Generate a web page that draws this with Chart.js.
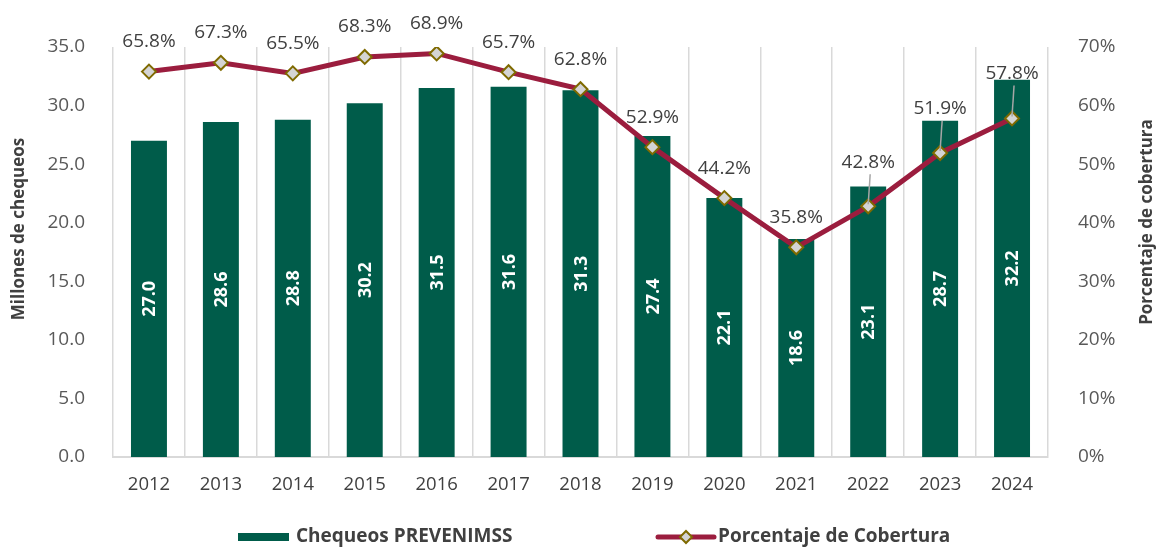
<!DOCTYPE html>
<html>
<head>
<meta charset="utf-8">
<script src="https://cdn.jsdelivr.net/npm/chart.js@4.4.1/dist/chart.umd.min.js"></script>
<style>
html,body{margin:0;padding:0;background:#fff;}
#wrap{width:1162px;height:550px;position:relative;}
</style>
</head>
<body>
<div id="wrap"><canvas id="c" width="1162" height="550"></canvas></div>
<script>
const years = ['2012','2013','2014','2015','2016','2017','2018','2019','2020','2021','2022','2023','2024'];
const chequeos = [27.0, 28.6, 28.8, 30.2, 31.5, 31.6, 31.3, 27.4, 22.1, 18.6, 23.1, 28.7, 32.2];
const cobertura = [65.8, 67.3, 65.5, 68.3, 68.9, 65.7, 62.8, 52.9, 44.2, 35.8, 42.8, 51.9, 57.8];
const leftTicks = [0, 5, 10, 15, 20, 25, 30, 35];
const rightTicks = [0, 10, 20, 30, 40, 50, 60, 70];
const leftTitle = 'Millones de chequeos';
const rightTitle = 'Porcentaje de cobertura';

const GREEN = '#005C4A';
const RED = '#9B1D3E';
const TXT = '#404040';
const FONT = '"Open Sans", sans-serif';

const labelPlugin = {
  id: 'labels',
  afterDatasetsDraw(chart) {
    const ctx = chart.ctx;
    const barMeta = chart.getDatasetMeta(0);
    ctx.save();
    ctx.fillStyle = '#ffffff';
    ctx.font = 'bold 18px ' + FONT;
    ctx.textAlign = 'center';
    ctx.textBaseline = 'middle';
    barMeta.data.forEach((bar, i) => {
      const cy = (bar.y + bar.base) / 2;
      ctx.save();
      ctx.translate(bar.x, cy);
      ctx.rotate(-Math.PI / 2);
      ctx.fillText(chequeos[i].toFixed(1), 0, 1);
      ctx.restore();
    });
    ctx.restore();
  },
  afterDraw(chart) {
    const ctx = chart.ctx;
    const lineMeta = chart.getDatasetMeta(1);
    const lifts = chart.options.plugins.labels.lift;
    ctx.save();
    ctx.font = '19px ' + FONT;
    ctx.fillStyle = TXT;
    ctx.textAlign = 'center';
    ctx.textBaseline = 'middle';
    lineMeta.data.forEach((pt, i) => {
      const lift = lifts[i] !== undefined ? lifts[i] : 30;
      const ly = pt.y - lift;
      if (lift > 35) {
        ctx.save();
        ctx.strokeStyle = '#A6A6A6';
        ctx.lineWidth = 1.5;
        ctx.beginPath();
        ctx.moveTo(pt.x + 2, ly + 12);
        ctx.lineTo(pt.x, pt.y - 2);
        ctx.stroke();
        ctx.restore();
      }
      ctx.fillText(cobertura[i].toFixed(1) + '%', pt.x, ly);
    });
    ctx.restore();

    // axis titles (both read bottom-to-top)
    ctx.save();
    ctx.font = 'bold 17px ' + FONT;
    ctx.fillStyle = TXT;
    ctx.textAlign = 'center';
    ctx.textBaseline = 'middle';
    ctx.save();
    ctx.translate(19, 229);
    ctx.rotate(-Math.PI / 2);
    ctx.fillText(leftTitle, 0, 0);
    ctx.restore();
    ctx.save();
    ctx.translate(1147, 222);
    ctx.rotate(-Math.PI / 2);
    ctx.fillText(rightTitle, 0, 0);
    ctx.restore();
    ctx.restore();

    // legend
    ctx.save();
    const ly = 537;
    ctx.fillStyle = GREEN;
    ctx.fillRect(238, ly - 4, 51, 8);
    ctx.font = 'bold 19px ' + FONT;
    ctx.fillStyle = TXT;
    ctx.textBaseline = 'middle';
    ctx.textAlign = 'left';
    ctx.fillText(chart.data.datasets[0].label, 296, ly);
    ctx.strokeStyle = RED;
    ctx.lineWidth = 5;
    ctx.lineCap = 'round';
    ctx.beginPath();
    ctx.moveTo(658, ly);
    ctx.lineTo(714, ly);
    ctx.stroke();
    ctx.beginPath();
    ctx.moveTo(686, ly - 6);
    ctx.lineTo(692, ly);
    ctx.lineTo(686, ly + 6);
    ctx.lineTo(680, ly);
    ctx.closePath();
    ctx.fillStyle = '#D4D4D4';
    ctx.fill();
    ctx.strokeStyle = '#7F6A00';
    ctx.lineWidth = 2;
    ctx.stroke();
    ctx.fillStyle = TXT;
    ctx.fillText(chart.data.datasets[1].label, 718, ly);
    ctx.restore();
  }
};

new Chart(document.getElementById('c'), {
  data: {
    labels: years,
    datasets: [
      {
        type: 'bar',
        label: 'Chequeos PREVENIMSS',
        data: chequeos,
        backgroundColor: GREEN,
        borderWidth: 0,
        barPercentage: 0.5,
        categoryPercentage: 1.0,
        yAxisID: 'y',
        order: 2
      },
      {
        type: 'line',
        label: 'Porcentaje de Cobertura',
        data: cobertura,
        borderColor: RED,
        borderWidth: 5,
        tension: 0,
        pointStyle: 'rectRot',
        pointRadius: 7,
        pointBackgroundColor: '#D4D4D4',
        pointBorderColor: '#7F6A00',
        pointBorderWidth: 2,
        yAxisID: 'y1',
        order: 1
      }
    ]
  },
  options: {
    responsive: false,
    animation: false,
    layout: { padding: { top: 47, bottom: 53, left: 0, right: 0 } },
    plugins: {
      legend: { display: false },
      tooltip: { enabled: false },
      labels: { lift: { 10: 44, 11: 44, 12: 45 } }
    },
    scales: {
      x: {
        grid: { display: true, color: '#D9D9D9', lineWidth: 1.5, drawTicks: false, offset: true },
        border: { display: true, color: '#D9D9D9', width: 2 },
        ticks: { color: TXT, font: { family: FONT, size: 18.5 }, padding: 17, maxRotation: 0 },
        afterFit(s) { s.height = 40; }
      },
      y: {
        position: 'left',
        min: 0, max: 35,
        afterBuildTicks(s) { s.ticks = leftTicks.map(v => ({ value: v })); },
        grid: { display: false },
        border: { display: false },
        ticks: { color: '#595959', font: { family: FONT, size: 19 }, padding: 20, callback: v => v.toFixed(1) },
        afterFit(s) { s.width = 113; }
      },
      y1: {
        position: 'right',
        min: 0, max: 70,
        afterBuildTicks(s) { s.ticks = rightTicks.map(v => ({ value: v })); },
        grid: { display: false },
        border: { display: false },
        ticks: { color: '#595959', font: { family: FONT, size: 19 }, padding: 22, callback: v => v + '%' },
        afterFit(s) { s.width = 114; }
      }
    }
  },
  plugins: [labelPlugin]
});
</script>
</body>
</html>
